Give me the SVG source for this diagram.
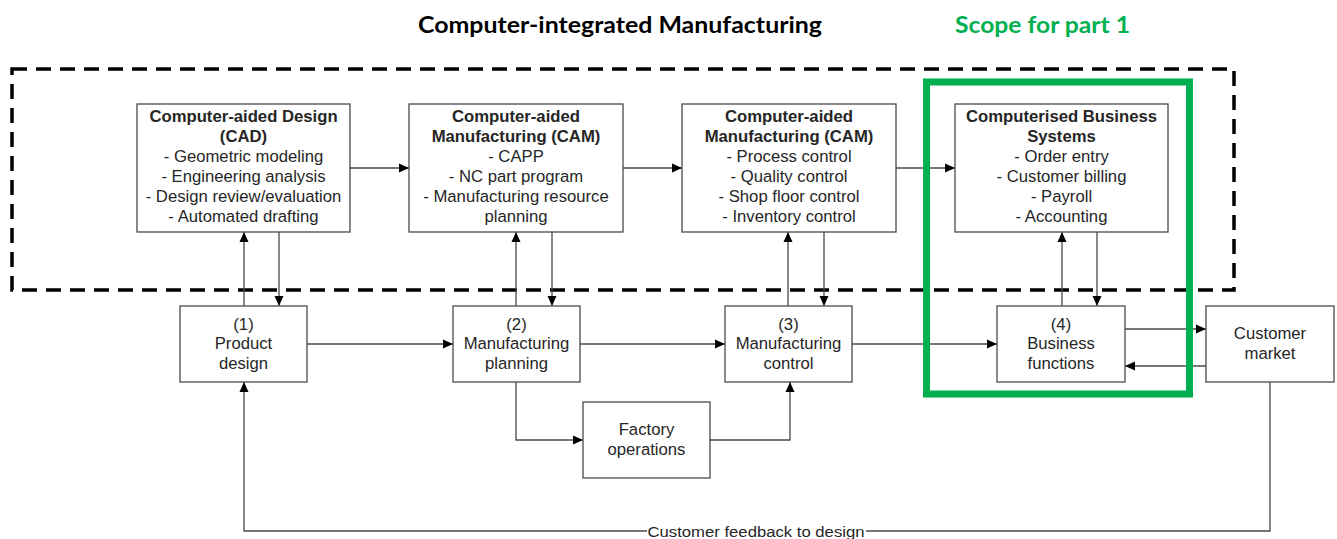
<svg xmlns="http://www.w3.org/2000/svg" width="1337" height="539" viewBox="0 0 1337 539">
<defs>
<marker id="ah" viewBox="0 0 10 10" refX="10" refY="5" markerWidth="10" markerHeight="10" markerUnits="userSpaceOnUse" orient="auto">
<path d="M0,0.5 L10,5 L0,9.5 Z" fill="#000"/>
</marker>
<style>
.box{fill:#fff;stroke:#4a4a4a;stroke-width:1.3}
.t{font-family:"Liberation Sans",Arial,sans-serif;font-size:16.7px;fill:#262626;text-anchor:middle}
.b{font-weight:bold}
.c{fill:none;stroke:#4a4a4a;stroke-width:1.3}
.a{marker-end:url(#ah)}
.h{font-family:Lato,"Open Sans",sans-serif;font-weight:bold;font-size:22px}
</style>
</defs>
<rect width="1337" height="539" fill="#fff"/>

<g id="titles">
<text class="h" x="418" y="33" textLength="404" lengthAdjust="spacingAndGlyphs" fill="#000">Computer-integrated Manufacturing</text>
<text class="h" x="955" y="33" textLength="175" lengthAdjust="spacingAndGlyphs" fill="#00b050">Scope for part 1</text>
</g>

<g id="cim-boundary">
<rect x="12" y="69" width="1222" height="221" fill="none" stroke="#000" stroke-width="3.5" stroke-dasharray="15,9"/>
</g>

<g id="connectors">
<line class="c a" x1="350" y1="168" x2="409" y2="168"/>
<line class="c a" x1="623" y1="168" x2="682" y2="168"/>
<line class="c a" x1="896" y1="168" x2="955" y2="168"/>
<line class="c a" x1="244" y1="306" x2="244" y2="232"/>
<line class="c a" x1="279" y1="232" x2="279" y2="306"/>
<line class="c a" x1="516" y1="306" x2="516" y2="232"/>
<line class="c a" x1="552" y1="232" x2="552" y2="306"/>
<line class="c a" x1="788" y1="306" x2="788" y2="232"/>
<line class="c a" x1="824" y1="232" x2="824" y2="306"/>
<line class="c a" x1="1062" y1="306" x2="1062" y2="232"/>
<line class="c a" x1="1097" y1="232" x2="1097" y2="306"/>
<line class="c a" x1="307" y1="344" x2="453" y2="344"/>
<line class="c a" x1="580" y1="344" x2="725" y2="344"/>
<line class="c a" x1="852" y1="344" x2="997" y2="344"/>
<line class="c a" x1="1125" y1="329" x2="1206" y2="329"/>
<line class="c a" x1="1206" y1="366" x2="1125" y2="366"/>
<polyline class="c a" points="516,382 516,440 583,440"/>
<polyline class="c a" points="710,440 790,440 790,382"/>
<polyline class="c a" points="1270,382 1270,531 244,531 244,382"/>
<rect x="647" y="522" width="219" height="16" fill="#fff"/>
<text class="t" x="756" y="536.5" style="font-size:15.5px" textLength="217" lengthAdjust="spacingAndGlyphs">Customer feedback to design</text>
</g>

<g id="cad">
<rect class="box" x="137" y="104" width="213" height="128"/>
<text class="t b" x="243.5" y="122">Computer-aided Design</text>
<text class="t b" x="243.5" y="142">(CAD)</text>
<text class="t" x="243.5" y="162">- Geometric modeling</text>
<text class="t" x="243.5" y="182">- Engineering analysis</text>
<text class="t" x="243.5" y="202">- Design review/evaluation</text>
<text class="t" x="243.5" y="222">- Automated drafting</text>
</g>

<g id="cam1">
<rect class="box" x="409" y="104" width="214" height="128"/>
<text class="t b" x="516" y="122">Computer-aided</text>
<text class="t b" x="516" y="142">Manufacturing (CAM)</text>
<text class="t" x="516" y="162">- CAPP</text>
<text class="t" x="516" y="182">- NC part program</text>
<text class="t" x="516" y="202">- Manufacturing resource</text>
<text class="t" x="516" y="222">planning</text>
</g>

<g id="cam2">
<rect class="box" x="682" y="104" width="214" height="128"/>
<text class="t b" x="789" y="122">Computer-aided</text>
<text class="t b" x="789" y="142">Manufacturing (CAM)</text>
<text class="t" x="789" y="162">- Process control</text>
<text class="t" x="789" y="182">- Quality control</text>
<text class="t" x="789" y="202">- Shop floor control</text>
<text class="t" x="789" y="222">- Inventory control</text>
</g>

<g id="cbs">
<rect class="box" x="955" y="104" width="213" height="128"/>
<text class="t b" x="1061.5" y="122">Computerised Business</text>
<text class="t b" x="1061.5" y="142">Systems</text>
<text class="t" x="1061.5" y="162">- Order entry</text>
<text class="t" x="1061.5" y="182">- Customer billing</text>
<text class="t" x="1061.5" y="202">- Payroll</text>
<text class="t" x="1061.5" y="222">- Accounting</text>
</g>

<g id="product-design">
<rect class="box" x="180" y="306" width="127" height="76"/>
<text class="t" x="243.5" y="330">(1)</text>
<text class="t" x="243.5" y="349">Product</text>
<text class="t" x="243.5" y="369">design</text>
</g>

<g id="manufacturing-planning">
<rect class="box" x="453" y="306" width="127" height="76"/>
<text class="t" x="516.5" y="330">(2)</text>
<text class="t" x="516.5" y="349">Manufacturing</text>
<text class="t" x="516.5" y="369">planning</text>
</g>

<g id="manufacturing-control">
<rect class="box" x="725" y="306" width="127" height="76"/>
<text class="t" x="788.5" y="330">(3)</text>
<text class="t" x="788.5" y="349">Manufacturing</text>
<text class="t" x="788.5" y="369">control</text>
</g>

<g id="business-functions">
<rect class="box" x="997" y="306" width="128" height="76"/>
<text class="t" x="1061" y="330">(4)</text>
<text class="t" x="1061" y="349">Business</text>
<text class="t" x="1061" y="369">functions</text>
</g>

<g id="customer-market">
<rect class="box" x="1206" y="306" width="128" height="76"/>
<text class="t" x="1270" y="339">Customer</text>
<text class="t" x="1270" y="359">market</text>
</g>

<g id="factory-operations">
<rect class="box" x="583" y="402" width="127" height="76"/>
<text class="t" x="646.5" y="435">Factory</text>
<text class="t" x="646.5" y="455">operations</text>
</g>

<g id="scope">
<rect x="926.5" y="82" width="263" height="312" fill="none" stroke="#00b050" stroke-width="7"/>
</g>
</svg>
